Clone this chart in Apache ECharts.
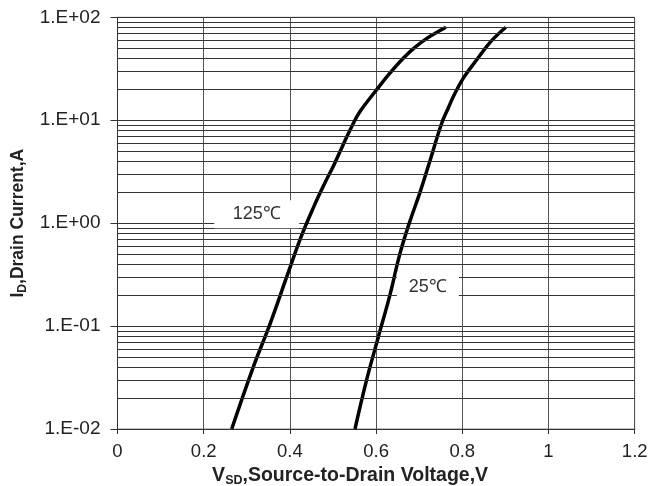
<!DOCTYPE html>
<html>
<head>
<meta charset="utf-8">
<script src="https://cdn.jsdelivr.net/npm/echarts@6/dist/echarts.min.js"></script>
<style>
html, body { margin: 0; padding: 0; background: #fff; }
#diodeChart { width: 666px; height: 486px; }
</style>
</head>
<body>
<div id="diodeChart"></div>
<script>
// forward voltage (V) vs drain current (A)
const hotCurve = [
  [0.265, 0.01], [0.315, 0.04], [0.354, 0.105], [0.396, 0.33], [0.425, 0.72],
  [0.454, 1.4], [0.480, 2.4], [0.501, 3.6], [0.522, 5.6], [0.543, 8.6],
  [0.563, 12.2], [0.598, 19], [0.630, 28], [0.663, 40], [0.690, 51],
  [0.717, 62], [0.740, 71], [0.762, 80]
]
const roomCurve = [
  [0.551, 0.01], [0.578, 0.03], [0.605, 0.078], [0.632, 0.2], [0.655, 0.5],
  [0.677, 1.0], [0.702, 2.0], [0.727, 4.3], [0.752, 9.3], [0.768, 13.3],
  [0.779, 16.9], [0.802, 25.5], [0.833, 38.5], [0.866, 58], [0.901, 80]
]
const curveNames = ['125℃', '25℃']
// where the temperature tags sit (data coords)
const tagCoords = [[0.323, 1.22], [0.720, 0.239]]
const xTicks = { min: 0, max: 1.2, step: 0.2 }
const yRange = { min: 0.01, max: 100 }

// minor log gridlines 2..9 in every decade
let minorLines = []
for (let d = 0.01; d < 100; d *= 10) {
  for (let k = 2; k <= 9; k++) {
    minorLines.push({ yAxis: +(d * k).toPrecision(3) })
  }
}

function expLabel(v) {
  let e = Math.round(Math.log10(v))
  return '1.E' + (e < 0 ? '-' : '+') + String(Math.abs(e)).padStart(2, '0')
}

let myChart = echarts.init(document.getElementById('diodeChart'))
let tagStyle = {
  symbol: 'rect',
  itemStyle: { color: '#fff' },
  label: {
    show: true,
    position: 'inside',
    color: '#333',
    fontSize: 18,
    fontFamily: 'Liberation Sans'
  }
}
let nameRich = {
  b: { fontSize: 19.5, fontWeight: 'bold', color: '#222', fontFamily: 'Liberation Sans' },
  s: { fontSize: 12.5, fontWeight: 'bold', color: '#222', fontFamily: 'Liberation Sans', padding: [9, 0, 0, 0] }
}
myChart.setOption({
  animation: false,
  textStyle: { fontFamily: 'Liberation Sans' },
  grid: {
    left: 117.5,
    right: 31.3,
    top: 17.3,
    bottom: 57,
    outerBoundsMode: 'none',
    containLabel: false,
    show: true,
    borderColor: '#888',
    borderWidth: 1
  },
  xAxis: {
    type: 'value',
    min: xTicks.min,
    max: xTicks.max,
    interval: xTicks.step,
    axisLine: { show: true, lineStyle: { color: '#333', width: 1 } },
    axisTick: { show: true, length: 5, lineStyle: { color: '#333' } },
    axisLabel: {
      color: '#222',
      fontSize: 18.5,
      margin: 13,
      formatter: v => String(+v.toFixed(1))
    },
    splitLine: { show: true, lineStyle: { color: '#555', width: 1 } },
    name: '{b|V}{s|SD}{b|,Source-to-Drain Voltage,V}',
    nameLocation: 'middle',
    nameGap: 35,
    nameTextStyle: { padding: [0, 52, 0, 0], rich: nameRich }
  },
  yAxis: {
    type: 'log',
    logBase: 10,
    min: yRange.min,
    max: yRange.max,
    axisLine: { show: true, lineStyle: { color: '#333', width: 1 } },
    axisTick: { show: true, length: 7, lineStyle: { color: '#333' } },
    axisLabel: { color: '#222', fontSize: 19, margin: 17, formatter: expLabel },
    splitLine: { show: true, lineStyle: { color: '#333', width: 1 } },
    minorTick: { show: false },
    name: '{b|I}{s|D}{b|,Drain Current,A}',
    nameLocation: 'middle',
    nameGap: 88,
    nameTextStyle: {
      rich: {
        b: { fontSize: 17.5, fontWeight: 'bold', color: '#222', fontFamily: 'Liberation Sans' },
        s: { fontSize: 12, fontWeight: 'bold', color: '#222', fontFamily: 'Liberation Sans', padding: [9, 0, 0, 0] }
      }
    }
  },
  series: [
    {
      // helper series: only carries the minor gridlines
      type: 'line',
      data: [],
      silent: true,
      markLine: {
        silent: true,
        symbol: 'none',
        label: { show: false },
        lineStyle: { color: '#333', width: 1, type: 'solid' },
        data: minorLines
      }
    },
    {
      name: curveNames[0],
      type: 'line',
      data: hotCurve,
      smooth: 0.4,
      showSymbol: false,
      lineStyle: { color: '#000', width: 3.5 },
      markPoint: Object.assign({}, tagStyle, {
        symbolSize: [85, 28],
        data: [{ coord: tagCoords[0], value: curveNames[0], label: { formatter: curveNames[0] } }]
      })
    },
    {
      name: curveNames[1],
      type: 'line',
      data: roomCurve,
      smooth: 0.4,
      showSymbol: false,
      lineStyle: { color: '#000', width: 3.5 },
      markPoint: Object.assign({}, tagStyle, {
        symbolSize: [62, 30],
        data: [{ coord: tagCoords[1], value: curveNames[1], label: { formatter: curveNames[1] } }]
      })
    }
  ]
})
</script>
</body>
</html>
